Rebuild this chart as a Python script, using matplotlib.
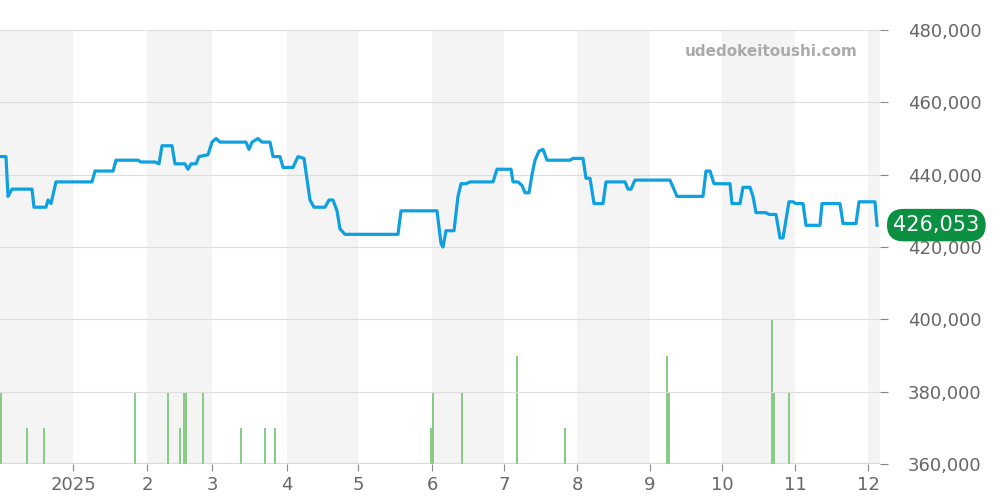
import matplotlib
matplotlib.use("Agg")
import matplotlib.pyplot as plt
import numpy as np

PXD = 72.5 / 30.44  # pixels per day (used only to convert read positions)
line_px = [0,6,8,12,32,34,46,48,51,56,92,95,113,116,138,141,155,159,162,172,175,185,188,191,196,199,208,212,216,220,246,249,252,258,262,270,273,280,283,293,298,304,310,314,325,329,333,337,340,345,398,401,437,441,443,446,454,458,461,466,470,493,497,511,513,518,522,525,529,532,535,539,543,547,570,573,583,586,590,594,603,606,625,628,631,635,670,677,703,706,710,714,730,732,740,743,750,753,756,766,769,776,780,783,789,793,796,803,806,820,822,840,843,856,859,875,877]
line_val = [445,445,434,436,436,431,431,433,432,438,438,441,441,444,444,443.5,443.5,443,448,448,443,443,441.5,443,443,445,445.5,449,450,449,449,447,449,450,449,449,445,445,442,442,445,444.5,433,431,431,433,433,430,425,423.5,423.5,430,430,421,420,424.5,424.5,434,437.5,437.5,438,438,441.5,441.5,438,438,437,435,435,440,444,446.5,447,444,444,444.5,444.5,439,439,432,432,438,438,436,436,438.5,438.5,434,434,441,441,437.5,437.5,432,432,436.5,436.5,434,429.5,429.5,429,429,422.5,422.5,432.5,432.5,432,432,426,426,432,432,426.5,426.5,432.5,432.5,426]
vol_px = [1,27,44,135,168,180,184,186,203,241,265,275,431,433,462,517,565,667,669,772,774,789]
vol_cnt = [2,1,1,2,2,1,2,2,2,1,1,1,1,2,2,3,1,3,2,4,2,2]
month_labels = ["2025","2","3","4","5","6","7","8","9","10","11","12"]
month_px = [73,147,212,287,358,432,504,577,650,722,795,868]
last_label = "426,053"

days = np.array(line_px) / PXD
vals = np.array(line_val) * 1000
vdays = np.array(vol_px) / PXD
mdays = np.array(month_px) / PXD
xmax = 880 / PXD

fig = plt.figure(figsize=(10, 5), dpi=100)
ax = fig.add_axes([0.0, 0.072, 0.88, 0.868])
ax.set_xlim(0, xmax)
ax.set_ylim(360000, 480000)
ax2 = ax.twinx()
ax2.set_ylim(0, 12)
bounds = [0] + list(mdays) + [xmax]
for i in range(0, len(bounds) - 1, 2):
    ax2.axvspan(bounds[i], bounds[i + 1], color="#f4f4f4", lw=0, zorder=0)
ax2.grid(False)
ax.grid(axis="y", color="#dddddd", lw=0.8, zorder=1)
ax2.bar(vdays, vol_cnt, width=0.45, color="#88cc88", zorder=2)
ax2.axhline(0.03, color="#cce6cc", lw=1, zorder=1)
ax2.set_yticks([])
ax.set_zorder(ax2.get_zorder() + 1)
ax.patch.set_visible(False)
ax.plot(days, vals, color="#0fa0e0", lw=2.3, zorder=3)
for a in (ax, ax2):
    for s in a.spines.values():
        s.set_visible(False)
ax.yaxis.tick_right()
ax.set_yticks(np.arange(360000, 480001, 20000))
ax.set_yticklabels([f"{v:,}" for v in range(360000, 480001, 20000)])
ax.tick_params(axis="y", colors="#666666", labelsize=13, length=6, color="#888888", pad=14)
ax.set_xticks(mdays)
ax.set_xticklabels(month_labels)
ax.tick_params(axis="x", colors="#666666", labelsize=13, length=5, color="#888888")
ax.text(0.975, 0.95, "udedokeitoushi.com", transform=ax.transAxes, ha="right", va="center",
        color="#aaaaaa", fontsize=11, fontweight="bold")
ax.annotate(last_label, xy=(1.0, 426053), xycoords=("axes fraction", "data"),
            xytext=(1.015, 426053), textcoords=("axes fraction", "data"), va="center",
            ha="left", color="white", fontsize=15,
            bbox=dict(boxstyle="round,pad=0.3,rounding_size=0.8", fc="#0a9040", ec="none"))
fig.savefig("out.png")
